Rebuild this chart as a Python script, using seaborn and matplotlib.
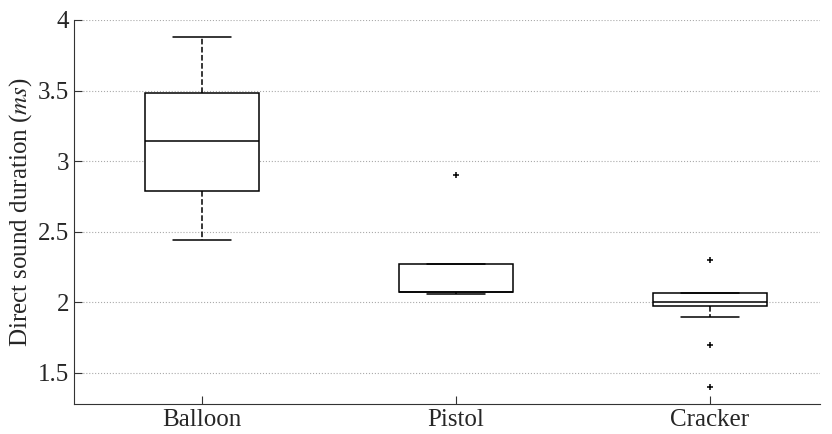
import pandas as pd
import matplotlib
matplotlib.use("Agg")
import matplotlib.pyplot as plt
import seaborn as sns

balloon = [2.445, 2.70, 2.79, 3.00, 3.14, 3.30, 3.48, 3.70, 3.88]
pistol = [2.06, 2.07, 2.07, 2.07, 2.07, 2.20, 2.27, 2.27, 2.90]
cracker = [1.40, 1.70, 1.90, 1.975, 1.98, 1.99, 2.00, 2.03, 2.05,
           2.065, 2.065, 2.065, 2.30]
sources = ["Balloon", "Pistol", "Cracker"]
yticks = [1.5, 2, 2.5, 3, 3.5, 4]

df = pd.DataFrame({
    "source": ["Balloon"] * len(balloon) + ["Pistol"] * len(pistol) + ["Cracker"] * len(cracker),
    "duration": balloon + pistol + cracker,
})

sns.set_style("white")
plt.rcParams["font.family"] = ["Liberation Serif", "DejaVu Serif"]
plt.rcParams["mathtext.fontset"] = "stix"

fig = plt.figure(figsize=(8.32, 4.34), dpi=100)
ax = fig.add_axes([0.089, 0.069, 0.8966, 0.885])

sns.boxplot(data=df, x="source", y="duration", order=sources, ax=ax,
            width=0.45, color="white", linecolor="black", linewidth=1.1,
            whis=1.5,
            whiskerprops={"linestyle": "--"},
            medianprops={"color": "black"},
            flierprops={"marker": "+", "markersize": 4, "markeredgecolor": "black",
                        "markeredgewidth": 1.1})

ax.set_ylim(1.28, 4.0)
ax.set_xlim(-0.504, 2.433)
ax.set_yticks(yticks)
ax.set_yticklabels([f"{v:g}" for v in yticks])
ax.yaxis.grid(True, linestyle=":", color="#aaaaaa", linewidth=0.8)
ax.set_axisbelow(True)
ax.set_xlabel("")
ax.set_ylabel("Direct sound duration ($ms$)", fontsize=18, labelpad=3)
ax.tick_params(axis="both", direction="in", labelsize=18, length=6, width=0.8,
               color="#333333", bottom=True, left=True)
for s in ["top", "right"]:
    ax.spines[s].set_visible(False)
for s in ["left", "bottom"]:
    ax.spines[s].set_color("#333333")
    ax.spines[s].set_linewidth(0.8)

fig.savefig("out.png", dpi=100)
